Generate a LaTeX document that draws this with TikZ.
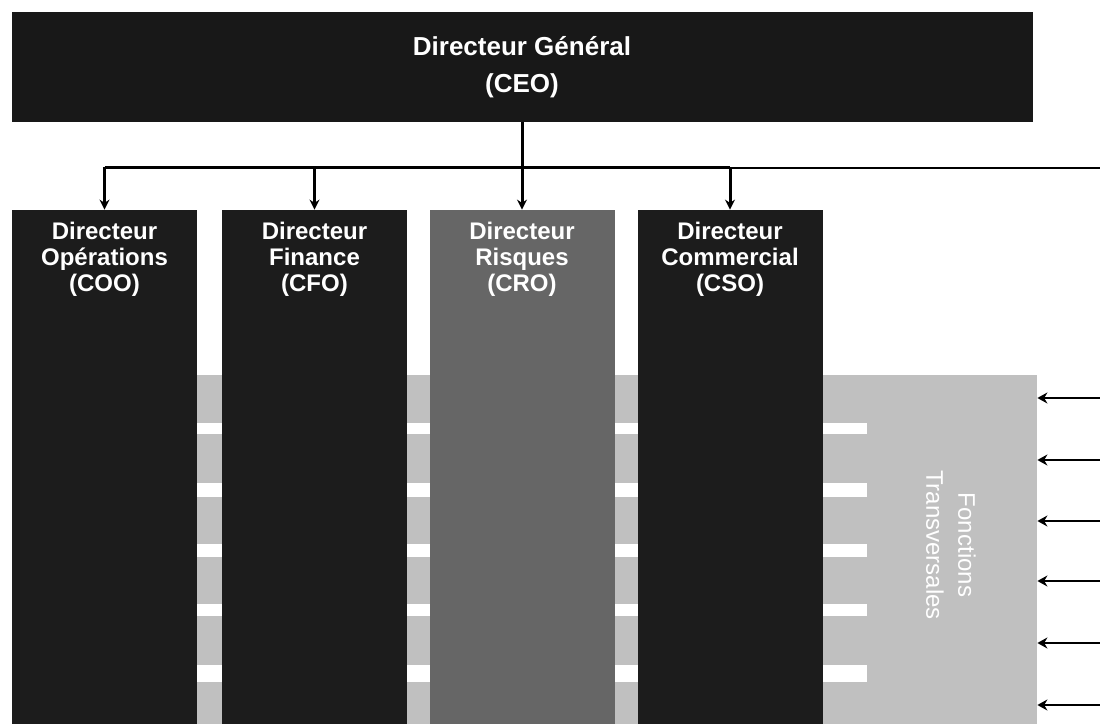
\documentclass[tikz,border=0pt]{standalone}
\usepackage{fontspec}
\setmainfont{Liberation Sans}
\usetikzlibrary{arrows.meta,positioning}
\definecolor{boxblack}{HTML}{1C1C1C}
\definecolor{ceoblack}{HTML}{181818}
\definecolor{boxgrey}{HTML}{666666}
\definecolor{bandgrey}{HTML}{C0C0C0}
\tikzset{dirbox/.style={rectangle,fill=boxblack,inner sep=0pt,minimum width=92.5pt,minimum height=257pt}}
\tikzset{dirtext/.style={text=white,font=\fontsize{12}{13}\selectfont\bfseries,align=center,inner sep=0pt,anchor=north}}
\tikzset{link/.style={-{Stealth[length=5pt,width=5pt]},line width=1.5pt}}
\tikzset{sidelink/.style={-{Stealth[length=5pt,width=5.5pt]}}}

\begin{document}
\begin{tikzpicture}[x=0.5pt,y=-0.5pt]
\useasboundingbox (0,0) rectangle (1100,724);
%
% bande des fonctions transversales
\node (band) [rectangle,fill=bandgrey,inner sep=0pt,minimum width=420pt,minimum height=174.5pt] at (617,549.5) {};
\foreach \ya/\yb in {423/434,483/497,544/557,604/616,665/682}
  \fill[white] (197,\ya) rectangle (867,\yb);
\node (band-t) [rotate=-90,text=white,align=center,inner sep=0pt,font=\fontsize{12}{16}\selectfont] at (951,545) {Fonctions\\Transversales};
%
% direction generale
\node (ceo) [rectangle,fill=ceoblack,inner sep=0pt,minimum width=510.5pt,minimum height=55pt] at (522,67) {};
\node (ceo-t) [text=white,align=center,inner sep=0pt,font=\fontsize{13}{18.5}\selectfont\bfseries] at (ceo.center) {Directeur Général\\(CEO)};
%
% directeurs
\node (coo) [dirbox] at (104.5,467) {};
\node (cfo) [dirbox] at (314.5,467) {};
\node (cro) [dirbox,fill=boxgrey] at (522,467) {};
\node (cso) [dirbox] at (730,467) {};
\node (coo-t) [dirtext] at ([yshift=-6pt]coo.north) {Directeur\\Opérations\\(COO)};
\node (cfo-t) [dirtext] at ([yshift=-6pt]cfo.north) {Directeur\\Finance\\(CFO)};
\node (cro-t) [dirtext] at ([yshift=-6pt]cro.north) {Directeur\\Risques\\(CRO)};
\node (cso-t) [dirtext] at ([yshift=-6pt]cso.north) {Directeur\\Commercial\\(CSO)};
%
% liaisons
\coordinate (j) at (522,167);
\coordinate (r) at (1100,168);
\draw[line width=1.5pt] (coo.north |- j) -- (cso.north |- j);
\draw[line width=0.75pt] (cso.north |- r) -- (r);
\path[link] (ceo.south) edge (cro.north);
\path[link] (coo.north |- j) edge (coo.north);
\path[link] (cfo.north |- j) edge (cfo.north);
\path[link] (cso.north |- j) edge (cso.north);
%
\foreach \yy/\lw in {398/1.25pt,460/0.75pt,521/1.25pt,581/1.25pt,643/0.75pt,705/1.25pt}
  \draw[sidelink,line width=\lw] (1100,\yy) -- (band.east |- 0,\yy);
\end{tikzpicture}
\end{document}
